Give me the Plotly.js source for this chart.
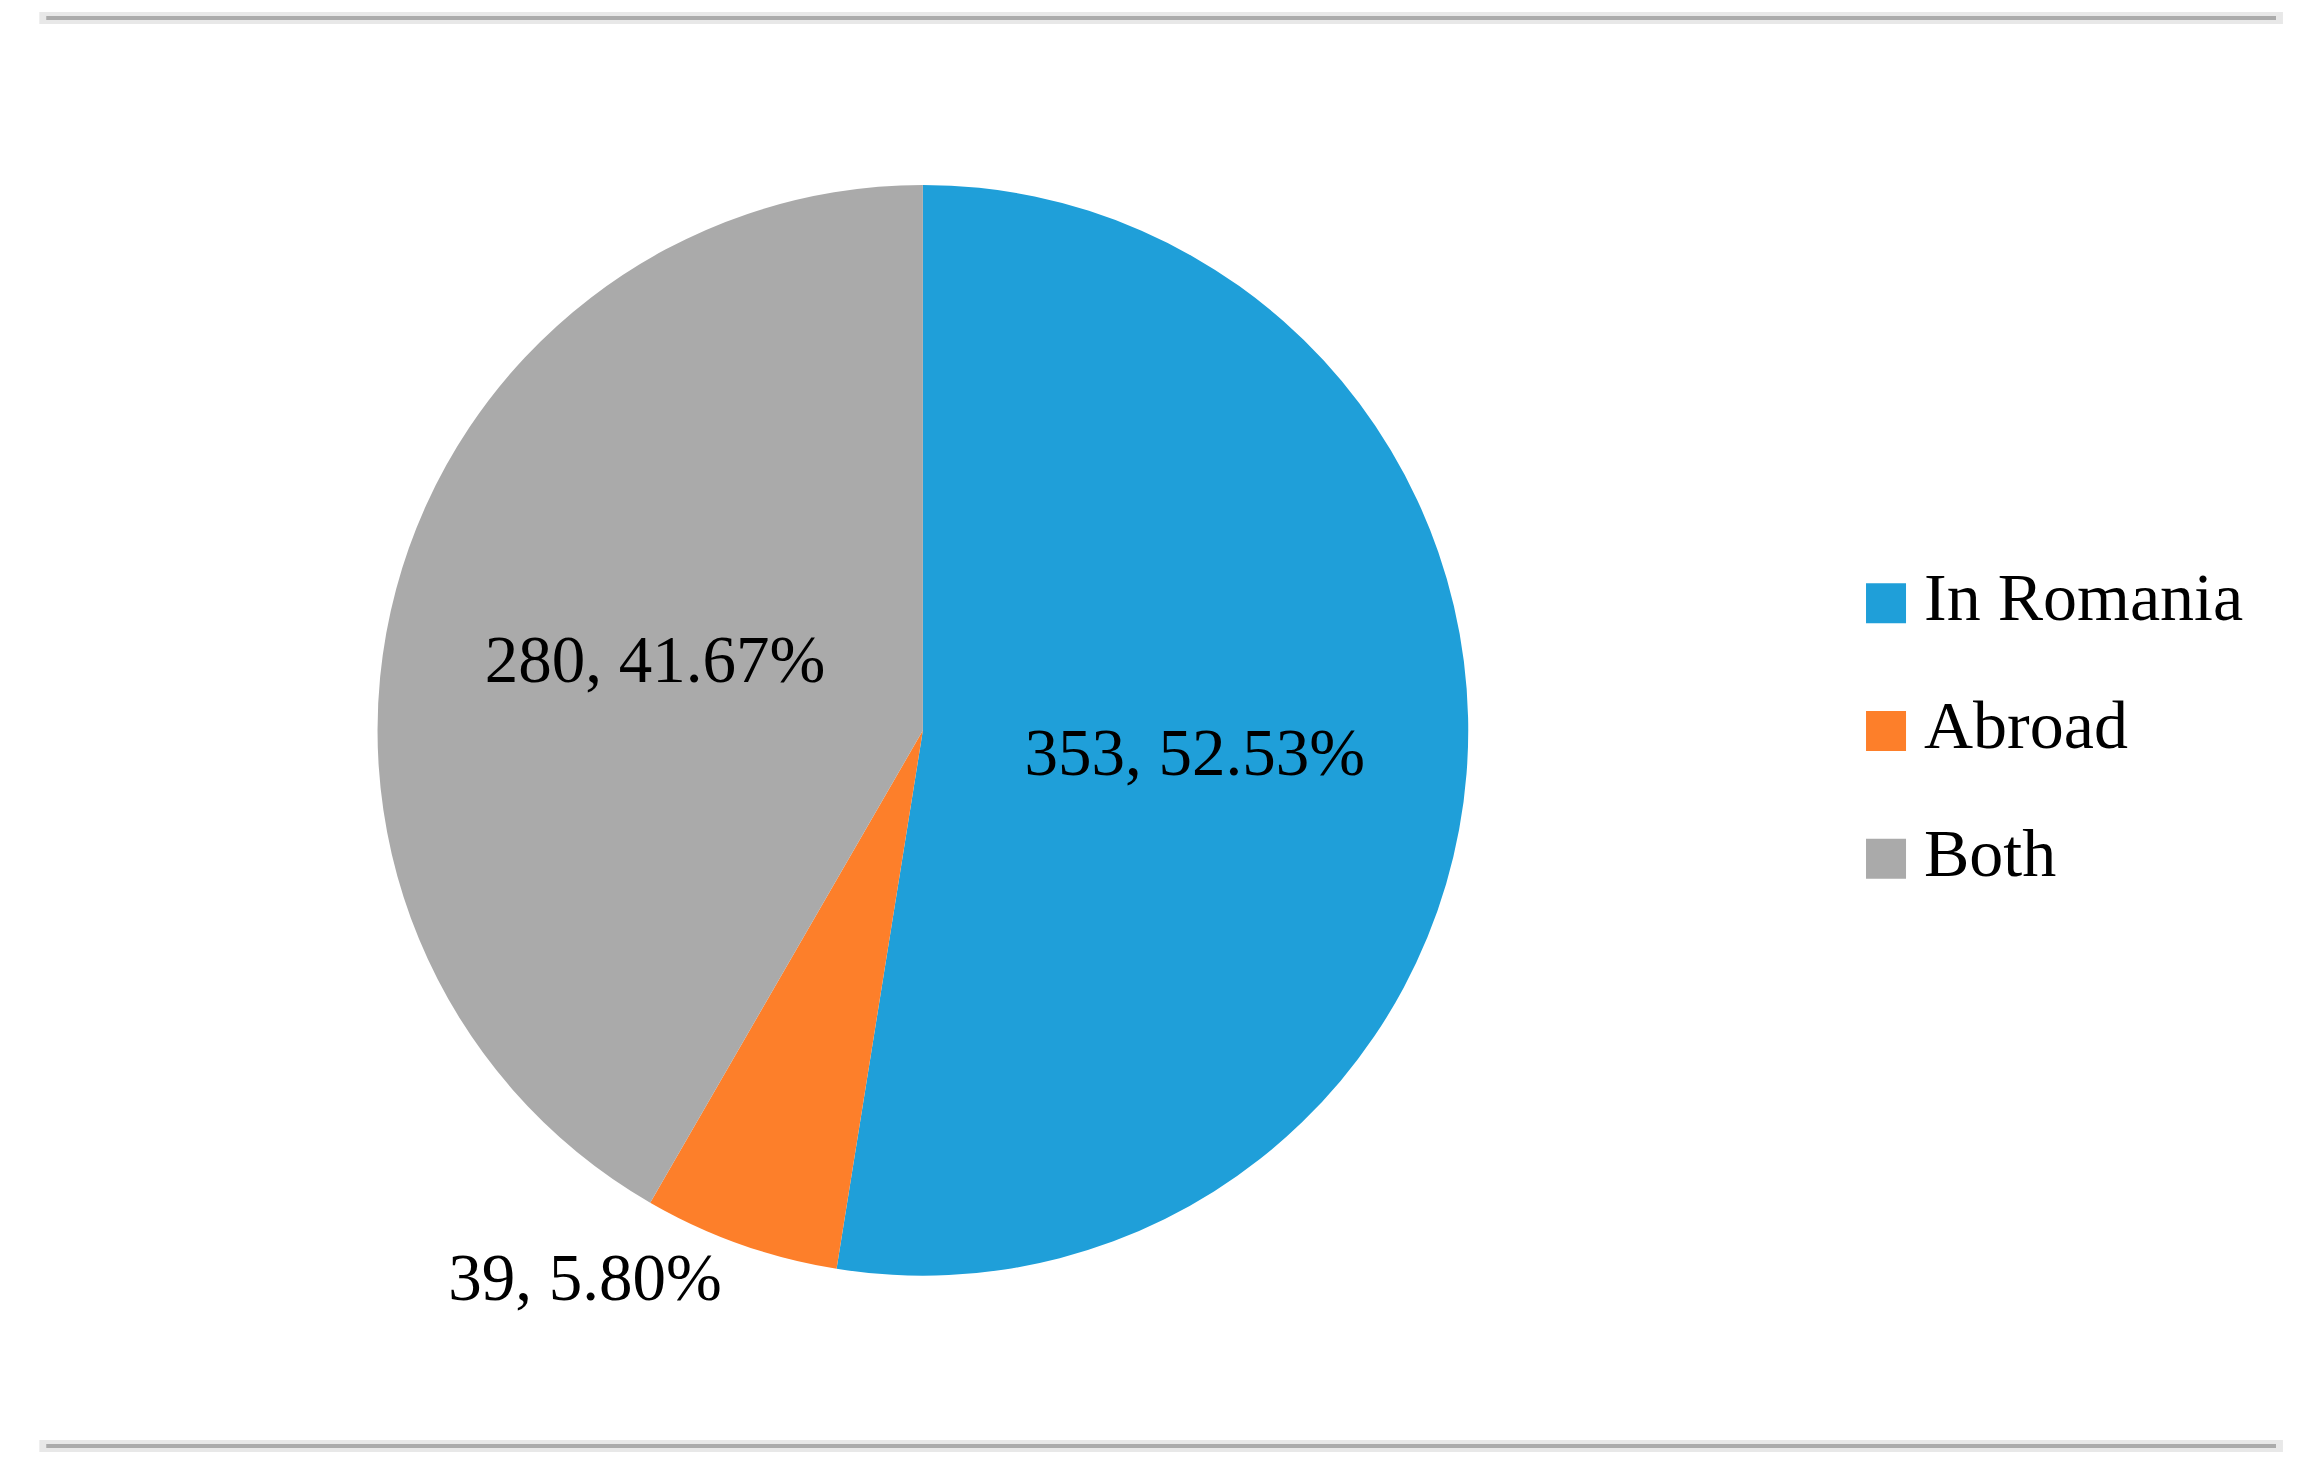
<!DOCTYPE html>
<html>
<head>
<meta charset="utf-8">
<script src="https://cdn.plot.ly/plotly-3.0.1.min.js"></script>
<style>
  html, body { margin: 0; padding: 0; background: #fff; }
  #chart { width: 2313px; height: 1468px; }
</style>
</head>
<body>
<div id="chart"></div>
<script>
// ---------- DATA ----------
const labels = ["In Romania", "Abroad", "Both"];
const counts = [353, 39, 280];
const percents = ["52.53%", "5.80%", "41.67%"];
const colors = ["#1f9fd9", "#fd7f2a", "#aaaaaa"];
const textPos = ["inside", "outside", "inside"];

const serif = "Liberation Serif, Times New Roman, serif";

// ---------- PIE ----------
const pie = {
  type: "pie",
  labels: labels,
  values: counts,
  customdata: percents,
  texttemplate: "%{value}, %{customdata}",
  textposition: textPos,
  insidetextorientation: "horizontal",
  sort: false,
  direction: "clockwise",
  rotation: 0,
  marker: { colors: colors, line: { color: "#ffffff", width: 0 } },
  textfont: { family: serif, size: 67, color: "#000" },
  insidetextfont: { family: serif, size: 67, color: "#000" },
  outsidetextfont: { family: serif, size: 67, color: "#000" },
  domain: { x: [0.163, 0.635], y: [0.131, 0.874] },
  showlegend: false,
  hoverinfo: "label+value+percent"
};

// ---------- LEGEND (squares + text) ----------
const shapes = [];
const annotations = [];
labels.forEach((lab, i) => {
  const yy = 0.589 - i * 0.087;
  shapes.push({
    type: "rect", xref: "paper", yref: "paper",
    xsizemode: "pixel", ysizemode: "pixel",
    xanchor: 0.8154, yanchor: yy,
    x0: -20, x1: 20, y0: -20, y1: 20,
    fillcolor: colors[i], line: { width: 0 }
  });
  annotations.push({
    xref: "paper", yref: "paper", x: 0.831, y: yy + 0.004,
    xanchor: "left", yanchor: "middle", showarrow: false,
    text: lab, font: { family: serif, size: 68, color: "#000" }
  });
});

// frame lines top and bottom (soft shadow + core)
[0.9877, 0.015].forEach(yy => {
  shapes.push({ type: "line", xref: "paper", yref: "paper", x0: 0.017, x1: 0.987, y0: yy, y1: yy,
    line: { color: "#e8e8e8", width: 12 } });
  shapes.push({ type: "line", xref: "paper", yref: "paper", x0: 0.02, x1: 0.984, y0: yy, y1: yy,
    line: { color: "#ababab", width: 4 } });
});

const layout = {
  width: 2313,
  height: 1468,
  margin: { l: 0, r: 0, t: 0, b: 0 },
  paper_bgcolor: "#ffffff",
  plot_bgcolor: "#ffffff",
  showlegend: false,
  shapes: shapes,
  annotations: annotations
};

Plotly.newPlot("chart", [pie], layout, { displayModeBar: false, staticPlot: true });
</script>
</body>
</html>
